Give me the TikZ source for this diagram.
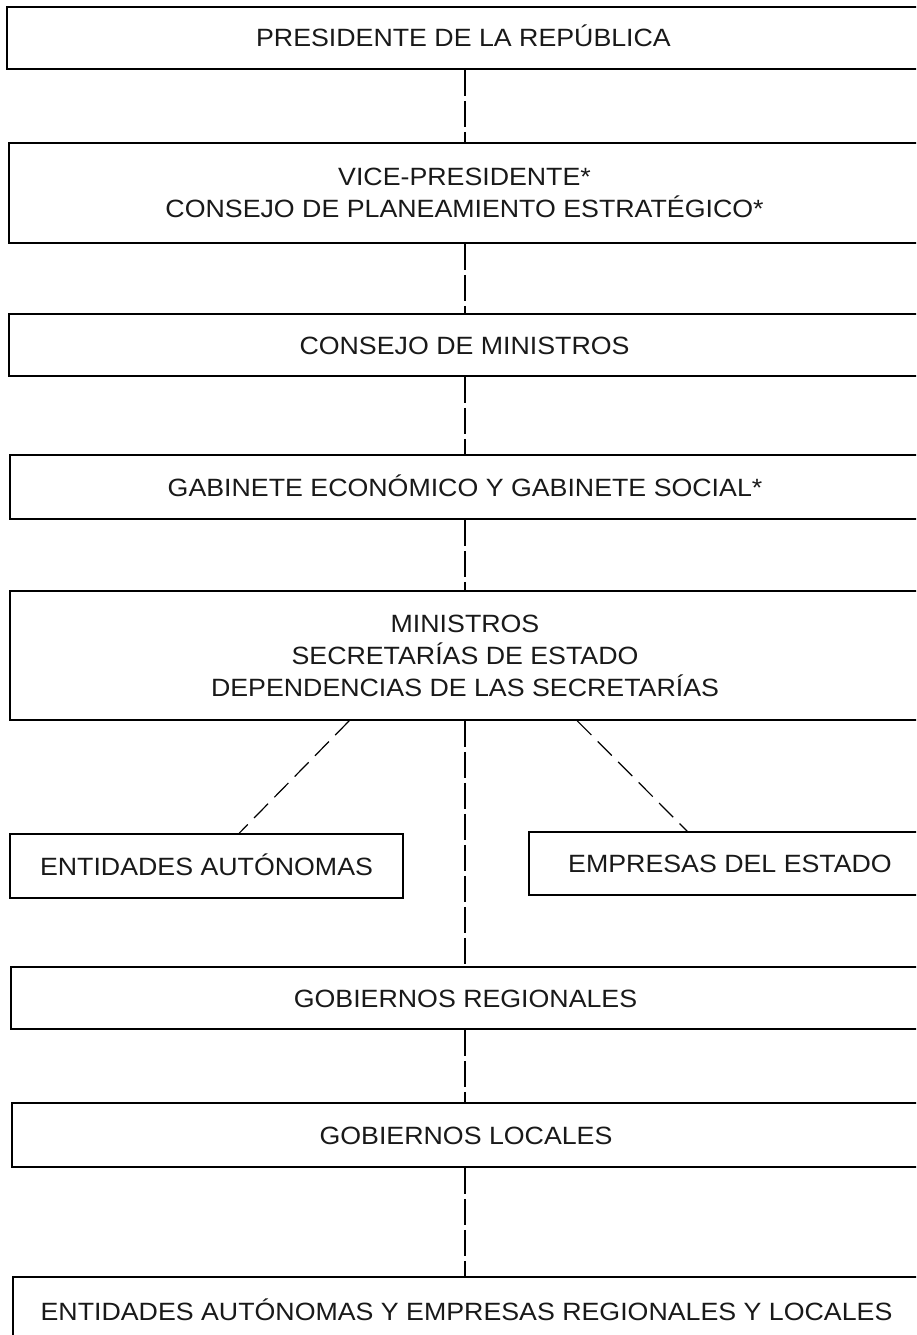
\documentclass[tikz,border=0pt]{standalone}
\usepackage{fontspec}
\setmainfont{Liberation Sans}[FakeStretch=1.07]
\begin{document}
\begin{tikzpicture}[x=1pt,y=-1pt,
  every node/.style={font=\fontsize{25}{32}\selectfont},
  orgbox/.style={draw=black, line width=1.6pt, inner sep=0pt, align=center, text=black!90},
  oneline/.style={orgbox, text height=18pt, text depth=0pt},
  vconn/.style={draw=black, line width=1.3pt, dash pattern=on 26pt off 5pt},
  dconn/.style={draw=black, line width=1.2pt, dash pattern=on 20pt off 9pt}]
\useasboundingbox (0,0) rectangle (916,1335);
\clip (0,0) rectangle (916,1335);
\coordinate (axis) at (465,0);
\node[oneline, minimum width=913pt, minimum height=62pt] (pres) at (463.5,38) {PRESIDENTE DE LA REPÚBLICA};
\node[orgbox, minimum width=911pt, minimum height=100pt] (vice) at (464.5,193) {VICE-PRESIDENTE*\\CONSEJO DE PLANEAMIENTO ESTRATÉGICO*};
\node[oneline, minimum width=911pt, minimum height=62pt] (cons) at (464.5,345) {CONSEJO DE MINISTROS};
\node[oneline, minimum width=910pt, minimum height=64pt] (gab) at (465,487) {GABINETE ECONÓMICO Y GABINETE SOCIAL*};
\node[orgbox, minimum width=910pt, minimum height=129pt] (mins) at (465,655.5) {MINISTROS\\SECRETARÍAS DE ESTADO\\DEPENDENCIAS DE LAS SECRETARÍAS};
\node[oneline, minimum width=393pt, minimum height=64pt] (ent) at (206.5,866) {ENTIDADES AUTÓNOMAS};
\node[oneline, minimum width=402pt, minimum height=63pt] (emp) at (730,863.5) {EMPRESAS DEL ESTADO};
\node[oneline, minimum width=909pt, minimum height=62pt] (greg) at (465.5,998) {GOBIERNOS REGIONALES};
\node[oneline, minimum width=908pt, minimum height=64pt] (gloc) at (466,1135) {GOBIERNOS LOCALES};
\node[oneline, minimum width=907pt, minimum height=68pt] (bot) at (466.5,1311) {ENTIDADES AUTÓNOMAS Y EMPRESAS REGIONALES Y LOCALES};
\draw[vconn] (pres.south -| axis) -- (vice.north -| axis);
\draw[vconn] (vice.south -| axis) -- (cons.north -| axis);
\draw[vconn] (cons.south -| axis) -- (gab.north -| axis);
\draw[vconn] (gab.south -| axis) -- (mins.north -| axis);
\draw[vconn] (mins.south -| axis) -- (greg.north -| axis);
\draw[vconn] (greg.south -| axis) -- (gloc.north -| axis);
\draw[vconn] (gloc.south -| axis) -- (bot.north -| axis);
\draw[dconn] ([xshift=340pt]mins.south west) -- ([xshift=230pt]ent.north west);
\draw[dconn] ([xshift=568pt]mins.south west) -- ([xshift=159pt]emp.north west);
\end{tikzpicture}
\end{document}
